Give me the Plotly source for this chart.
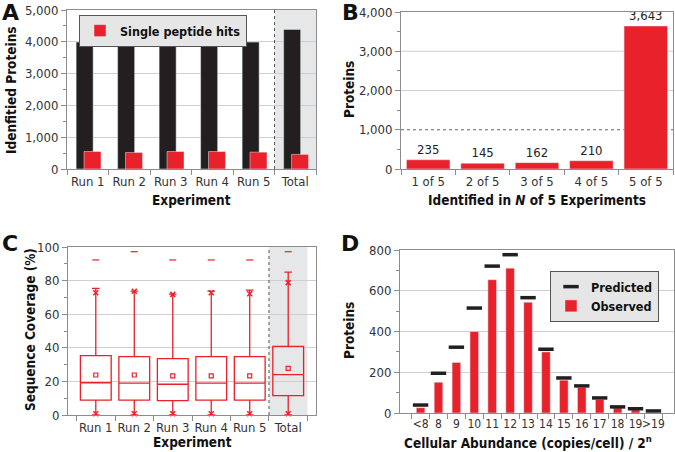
import plotly.graph_objects as go

# ---------------- data ----------------
exp_cats = ["Run 1", "Run 2", "Run 3", "Run 4", "Run 5", "Total"]
identified = [3990, 3960, 3950, 3960, 3990, 4390]
single_hits = [550, 520, 550, 550, 530, 460]

nof5_cats = ["1 of 5", "2 of 5", "3 of 5", "4 of 5", "5 of 5"]
nof5_vals = [235, 145, 162, 210, 3643]

cov_q1 = [8.9, 8.9, 8.5, 8.9, 8.9, 11.5]
cov_median = [19.2, 19.0, 18.3, 19.0, 19.0, 24.0]
cov_q3 = [35.3, 34.7, 33.5, 34.7, 34.7, 40.8]
cov_lower = [0, 0, 0, 0, 0, 0]
cov_upper = [75.4, 73.7, 72.0, 73.7, 74.3, 85.0]
cov_mean = [23.8, 23.8, 23.3, 23.3, 23.3, 27.7]
cov_p99 = [72.8, 73.7, 71.8, 72.8, 72.2, 78.8]
cov_p1 = [0.8, 0.8, 0.8, 0.8, 0.8, 0.8]
cov_max = [92.3, 97.2, 92.3, 92.3, 92.3, 97.2]

abund_cats = ["<8", "8", "9", "10", "11", "12", "13", "14", "15", "16", "17", "18", "19", ">19"]
observed = [26, 151, 248, 400, 654, 711, 544, 300, 161, 126, 66, 25, 16, 0]
predicted = [39, 195, 323, 515, 721, 777, 566, 313, 172, 133, 74, 30, 21, 10]

# ---------------- style ----------------
RED = "#e8212a"
BLACK = "#231f20"
GRID = "#cfcfcf"
AX = "#8c8c8c"
SHADE = "#e6e7e8"
FONT = "DejaVu Sans Condensed, Liberation Sans Narrow, Arial Narrow, sans-serif"
W, H = 675, 452

def px_x(a, b):
    return [a / W, b / W]

def px_y(top, bottom):
    return [1 - bottom / H, 1 - top / H]

fig = go.Figure()

# ---- Panel A ----
fig.add_trace(go.Bar(x=exp_cats, y=identified, marker_color=BLACK, width=0.41, offset=-0.28,
                     showlegend=False, xaxis="x", yaxis="y", hoverinfo="skip"))
fig.add_trace(go.Bar(x=exp_cats, y=single_hits, marker_color=RED, width=0.41, offset=-0.09,
                     name="Single peptide hits", legend="legend", xaxis="x", yaxis="y"))

# ---- Panel B ----
fig.add_trace(go.Bar(x=nof5_cats, y=nof5_vals, marker_color=RED, width=0.8,
                     text=nof5_vals, texttemplate="%{y:,}", textposition="outside",
                     textfont=dict(family=FONT, size=13, color="#222"),
                     cliponaxis=False, showlegend=False, xaxis="x2", yaxis="y2"))

# ---- Panel C ----
fig.add_trace(go.Box(x=exp_cats, q1=cov_q1, median=cov_median, q3=cov_q3,
                     lowerfence=cov_lower, upperfence=cov_upper,
                     line=dict(color=RED, width=1.3), fillcolor="rgba(255,255,255,0)",
                     width=0.8, whiskerwidth=0.25, boxpoints=False,
                     showlegend=False, xaxis="x3", yaxis="y3", hoverinfo="skip"))
fig.add_trace(go.Scatter(x=exp_cats, y=cov_mean, mode="markers",
                         marker=dict(symbol="square-open", size=4, color=RED, line=dict(width=1.2)),
                         showlegend=False, xaxis="x3", yaxis="y3"))
fig.add_trace(go.Scatter(x=exp_cats, y=cov_p99, mode="markers",
                         marker=dict(symbol="x-thin-open", size=5, color=RED, line=dict(width=1.5, color=RED)),
                         showlegend=False, xaxis="x3", yaxis="y3"))
fig.add_trace(go.Scatter(x=exp_cats, y=cov_p1, mode="markers",
                         marker=dict(symbol="x-thin-open", size=5, color=RED, line=dict(width=1.5, color=RED)),
                         showlegend=False, xaxis="x3", yaxis="y3", cliponaxis=False))
fig.add_trace(go.Scatter(x=exp_cats, y=cov_max, mode="markers",
                         marker=dict(symbol="line-ew-open", size=5, color=RED, line=dict(width=1.2, color=RED)),
                         showlegend=False, xaxis="x3", yaxis="y3"))

# ---- Panel D ----
fig.add_trace(go.Bar(x=abund_cats, y=observed, marker_color=RED, width=0.48,
                     name="Observed", legend="legend2", xaxis="x4", yaxis="y4"))
fig.add_trace(go.Scatter(x=abund_cats, y=predicted, mode="markers",
                         marker=dict(symbol="line-ew-open", size=11, color=BLACK,
                                     line=dict(width=3.5, color=BLACK)),
                         name="Predicted", legend="legend2", xaxis="x4", yaxis="y4", cliponaxis=False))

tickfont = dict(family=FONT, size=13, color="#333")
titlefont = dict(family=FONT, size=13.5, color="#111", weight="bold")

def xcat(domain, anchor, fs=13):
    return dict(domain=domain, anchor=anchor, type="category", tickson="boundaries",
                dtick=1, tickangle=0, automargin=False,
                ticks="outside", ticklen=5, tickcolor=AX, showline=True, linecolor=AX,
                mirror=True, tickfont=dict(tickfont, size=fs), showgrid=False)

def ylin(domain, anchor, rng, dtick, minor, grid=True):
    return dict(domain=domain, anchor=anchor, range=rng, dtick=dtick, tickformat=",",
                automargin=False,
                ticks="outside", ticklen=5, tickcolor=AX, showline=True, linecolor=AX,
                mirror=True, tickfont=tickfont, showgrid=grid, gridcolor=GRID, gridwidth=1,
                zeroline=False,
                minor=dict(dtick=minor, ticks="outside", ticklen=3, tickcolor=AX, showgrid=False))

legfont = dict(family=FONT, size=12.5, color="#111", weight="bold")

fig.update_layout(
    width=W, height=H, margin=dict(l=0, r=0, t=0, b=0),
    paper_bgcolor="white", plot_bgcolor="rgba(0,0,0,0)",
    barmode="overlay", font=dict(family=FONT, color="#222"),
    xaxis=xcat(px_x(67, 316), "y"),
    yaxis=ylin(px_y(10, 169), "x", [0, 5000], 1000, 500),
    xaxis2=xcat(px_x(401, 673), "y2"),
    yaxis2=ylin(px_y(12, 169), "x2", [0, 4000], 1000, 500, grid=False),
    xaxis3=xcat(px_x(68, 316), "y3"),
    yaxis3=ylin(px_y(247, 415), "x3", [0, 100], 20, 10),
    xaxis4=xcat(px_x(400, 674), "y4", fs=12),
    yaxis4=ylin(px_y(250, 413), "x4", [0, 800], 200, 100),
    legend=dict(x=79 / W, y=1 - 15 / H, xanchor="left", yanchor="top",
                bgcolor="#e6e6e6", bordercolor="#555", borderwidth=1,
                font=legfont, itemwidth=30, tracegroupgap=0),
    legend2=dict(x=659 / W, y=1 - 271 / H, xanchor="right", yanchor="top",
                 bgcolor="#e6e6e6", bordercolor="#555", borderwidth=1,
                 font=legfont, traceorder="reversed", itemwidth=30, tracegroupgap=0),
)

# shaded "Total" regions and dotted separators
for xr, yr in (("x", "y"), ("x3", "y3")):
    fig.add_shape(type="rect", xref=xr, yref=yr + " domain", x0=4.5, x1=5.5, y0=0, y1=1,
                  fillcolor=SHADE, line_width=0, layer="below")
    fig.add_shape(type="line", xref=xr, yref=yr + " domain", x0=4.5, x1=4.5, y0=0, y1=1,
                  line=dict(color="#555", width=1, dash="dot"), layer="above")

# B gridlines: dotted at 1,000, solid above
for gy, dash, col in ((1000, "dot", "#666"), (2000, "solid", GRID), (3000, "solid", GRID)):
    fig.add_shape(type="line", xref="x2 domain", yref="y2", x0=0, x1=1, y0=gy, y1=gy,
                  line=dict(color=col, width=1, dash=dash), layer="below")

# axis titles
titles = [
    ("Idenfitied Proteins", 11, 90, -90),
    ("Experiment", 191, 200, 0),
    ("Proteins", 349, 90, -90),
    ("Identified in <i>N</i> of 5 Experiments", 537, 200, 0),
    ("Sequence Coverage (%)", 30, 330, -90),
    ("Experiment", 192, 442, 0),
    ("Proteins", 349, 331, -90),
    ("Cellular Abundance (copies/cell) / 2<sup>n</sup>", 528, 442, 0),
]
for txt, x, y, ang in titles:
    fig.add_annotation(text=txt, x=x / W, y=1 - y / H, xref="paper", yref="paper",
                       showarrow=False, xanchor="center", yanchor="middle", textangle=ang,
                       font=titlefont)

# panel letters
for letter, x, y in (("A", 10, 12), ("B", 350, 12), ("C", 10, 244), ("D", 350, 244)):
    fig.add_annotation(text=letter, x=x / W, y=1 - y / H, xref="paper", yref="paper",
                       showarrow=False, xanchor="center", yanchor="middle",
                       font=dict(family="DejaVu Sans, Liberation Sans, sans-serif", size=22,
                                 color="#111", weight="bold"))

fig.write_html("out.html", config={"displayModeBar": False},
               post_script="document.body.style.margin='0';")
